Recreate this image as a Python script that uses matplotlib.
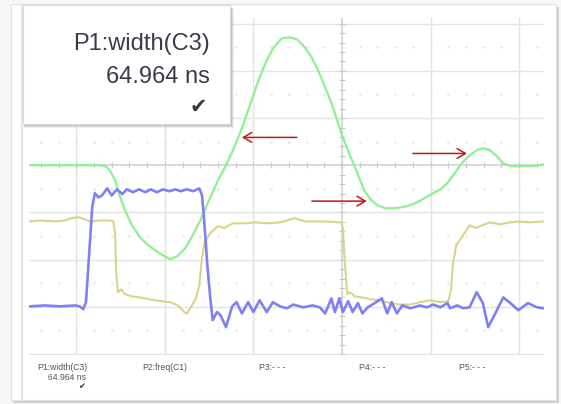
import matplotlib
matplotlib.use("Agg")
import matplotlib.pyplot as plt
from matplotlib.patches import Rectangle, FancyArrowPatch
import numpy as np

# ---- data (units: screen divisions; x = time, y = amplitude) ----
green_t = [-3.53, -2.73, -2.67, -2.62, -2.56, -2.51, -2.45, -2.37, -2.28, -2.19, -2.11, -2.02,
           -1.94, -1.86, -1.77, -1.69, -1.60, -1.49, -1.40, -1.32, -1.24, -1.13, -1.04, -0.95,
           -0.86, -0.77, -0.68, -0.59, -0.51, -0.43, -0.35, -0.27, -0.19, -0.11, 0.00, 0.09,
           0.17, 0.25, 0.32, 0.40, 0.49, 0.60, 0.73, 0.82, 0.91, 1.03, 1.11, 1.19, 1.28, 1.35,
           1.44, 1.52, 1.59, 1.67, 1.75, 1.82, 1.90, 2.01, 2.16, 2.28]
green_v = [0.00, 0.00, -0.02, -0.11, -0.32, -0.64, -0.95, -1.27, -1.53, -1.69, -1.80, -1.91,
           -1.99, -1.93, -1.76, -1.50, -1.17, -0.70, -0.32, -0.04, 0.28, 0.78, 1.27, 1.76,
           2.18, 2.50, 2.69, 2.71, 2.67, 2.52, 2.31, 2.01, 1.65, 1.27, 0.64, 0.21,
           -0.15, -0.53, -0.72, -0.85, -0.91, -0.91, -0.87, -0.81, -0.72, -0.59, -0.51, -0.38, -0.15, 0.04,
           0.21, 0.32, 0.36, 0.32, 0.19, 0.04, -0.02, -0.02, -0.02, 0.02]

yellow_t = [-3.53, -3.41, -3.24, -3.13, -3.05, -2.98, -2.91, -2.84, -2.73, -2.62, -2.58, -2.56,
            -2.55, -2.53, -2.49, -2.45, -2.37, -2.28, -2.17, -2.05, -1.94, -1.85, -1.78, -1.75,
            -1.70, -1.65, -1.61, -1.58, -1.55, -1.49, -1.40, -1.33, -1.23, -1.09, -0.98, -0.85,
            -0.70, -0.53, -0.42, -0.33, -0.19, -0.01, 0.01, 0.03, 0.06, 0.09, 0.15, 0.23, 0.32,
            0.43, 0.54, 0.65, 0.77, 0.88, 0.99, 1.11, 1.20, 1.23, 1.25, 1.29, 1.35, 1.44, 1.51,
            1.61, 1.67, 1.78, 1.90, 1.99, 2.12, 2.28]
yellow_v = [-1.19, -1.17, -1.19, -1.17, -1.12, -1.10, -1.14, -1.19, -1.17, -1.17, -1.19, -1.48,
            -2.22, -2.69, -2.63, -2.73, -2.78, -2.80, -2.84, -2.88, -2.90, -2.97, -3.11, -3.14,
            -2.99, -2.82, -2.54, -1.95, -1.63, -1.44, -1.29, -1.33, -1.23, -1.23, -1.21, -1.23,
            -1.21, -1.12, -1.19, -1.19, -1.19, -1.21, -1.33, -2.01, -2.73, -2.69, -2.78, -2.80, -2.84,
            -2.86, -2.92, -2.95, -2.95, -2.90, -2.86, -2.90, -2.88, -2.65, -2.12, -1.69, -1.53, -1.27, -1.33,
            -1.25, -1.21, -1.25, -1.21, -1.19, -1.21, -1.19]

blue_t = [-3.53, -3.35, -3.18, -3.01, -2.96, -2.92, -2.89, -2.87, -2.84, -2.82, -2.79, -2.75,
          -2.71, -2.65, -2.60, -2.54, -2.48, -2.43, -2.36, -2.29, -2.22, -2.16, -2.09, -2.02,
          -1.95, -1.88, -1.82, -1.75, -1.68, -1.61, -1.58, -1.56, -1.52, -1.49, -1.46, -1.41,
          -1.37, -1.31, -1.24, -1.19, -1.13, -1.06, -1.00, -0.93, -0.85, -0.78, -0.70, -0.62,
          -0.55, -0.44, -0.33, -0.25, -0.19, -0.12, -0.08, -0.03, 0.01, 0.07, 0.12, 0.18, 0.23,
          0.29, 0.37, 0.45, 0.51, 0.56, 0.62, 0.68, 0.77, 0.88, 0.96, 1.03, 1.11, 1.19, 1.22,
          1.30, 1.37, 1.44, 1.52, 1.59, 1.65, 1.73, 1.82, 1.90, 1.99, 2.10, 2.20, 2.28]
blue_v = [-2.99, -2.97, -2.99, -2.97, -2.99, -3.05, -2.90, -2.33, -1.48, -0.89, -0.59, -0.68,
          -0.64, -0.49, -0.64, -0.51, -0.61, -0.51, -0.57, -0.51, -0.57, -0.51, -0.57, -0.51,
          -0.55, -0.51, -0.55, -0.51, -0.55, -0.49, -0.64, -1.06, -2.12, -2.75, -3.28, -3.11,
          -3.18, -3.43, -2.99, -2.90, -3.14, -2.90, -3.11, -2.86, -3.11, -2.90, -2.99, -3.03,
          -2.95, -3.01, -2.97, -3.01, -3.14, -2.82, -3.11, -2.82, -3.11, -2.88, -3.11, -2.92, -3.14,
          -3.01, -2.92, -2.82, -3.14, -2.90, -3.14, -2.97, -3.03, -2.97, -3.01, -2.95, -3.01, -2.92, -3.03,
          -2.97, -3.03, -3.01, -2.69, -2.92, -3.43, -3.14, -2.80, -2.92, -3.07, -2.92, -3.01, -3.03]

# annotation arrows: (tail_t, tail_v, head_t, head_v)
arrows = [(-0.51, 0.59, -1.13, 0.59),
          (-0.34, -0.76, 0.28, -0.76),
          (0.80, 0.25, 1.41, 0.25)]

meas_box = ["P1:width(C3)", "64.964 ns"]
param_labels = ["P1:width(C3)", "P2:freq(C1)", "P3:- - -", "P4:- - -", "P5:- - -"]
param_x = [37, 142, 259, 359, 459]
p1_value = "64.964 ns"

W, H = 561, 404
fig = plt.figure(figsize=(W / 100, H / 100), dpi=100)
fig.patch.set_facecolor("#f7f7f7")

# background decoration layer (pixel coordinates)
bg = fig.add_axes([0, 0, 1, 1], zorder=0)
bg.set_xlim(0, W)
bg.set_ylim(H, 0)
bg.axis("off")
bg.add_patch(Rectangle((13, 7), 546, 396, facecolor="#d0d0d0", edgecolor="none"))
bg.add_patch(Rectangle((11, 4), 545, 396, facecolor="white", edgecolor="#e2e2e2", lw=0.8))
bg.plot([22, 22], [5, 400], color="#e4e4e4", lw=1.5)

# main scope axes
L, R, T, B = 29, 544, 18, 355
ax = fig.add_axes([L / W, (H - B) / H, (R - L) / W, (B - T) / H], zorder=1)
ax.set_facecolor("none")
ax.set_xlim(-3.533, 2.28)
ax.set_ylim(-4.02, 3.12)
for s in ax.spines.values():
    s.set_visible(False)
ax.set_xticks([])
ax.set_yticks([])

grid_c = "#e3e3e3"
for xv in [-3, -2, -1, 1, 2]:
    ax.axvline(xv, color=grid_c, lw=1.0, zorder=1)
for yv in [3, 2, 1, -1, -2, -3, -4]:
    ax.axhline(yv, color=grid_c, lw=1.0, zorder=1)
ax.axvline(0, color="#d2d2d2", lw=1.2, zorder=1)
ax.axhline(0, color="#d2d2d2", lw=1.2, zorder=1)

# minor ticks on center axes
tx = np.arange(-3.4, 2.3, 0.2)
ty = np.arange(-4.0, 3.1, 0.2)
ax.plot(tx, np.zeros_like(tx), linestyle="none", marker="|", ms=4, mew=0.8, color="#c8c8c8", zorder=1)
ax.plot(np.zeros_like(ty), ty, linestyle="none", marker="_", ms=4, mew=0.8, color="#c8c8c8", zorder=1)
# faint dotted minor grid marks
for yv in [2.5, 1.5, 0.5, -0.5, -1.5, -2.5, -3.5]:
    ax.plot(tx, np.full_like(tx, yv), linestyle="none", marker="s", ms=0.8, color="#e6e6e6", zorder=1)

ax.plot(green_t, green_v, color="#8ef08e", lw=1.6, zorder=3,
        solid_joinstyle="round", solid_capstyle="round")
ax.plot(yellow_t, yellow_v, color="#d9d48a", lw=1.5, zorder=3,
        solid_joinstyle="round", solid_capstyle="round")
ax.plot(blue_t, blue_v, color="#8080f4", lw=1.9, zorder=4,
        solid_joinstyle="round", solid_capstyle="round")

for (t0, v0, t1, v1) in arrows:
    ax.add_patch(FancyArrowPatch((t0, v0), (t1, v1), arrowstyle="->,head_length=6,head_width=3.5",
                                 mutation_scale=1, color="#c01818", lw=1.1, zorder=5,
                                 shrinkA=0, shrinkB=0))

# foreground decoration layer
fg = fig.add_axes([0, 0, 1, 1], zorder=2)
fg.set_xlim(0, W)
fg.set_ylim(H, 0)
fg.axis("off")
fg.patch.set_alpha(0)
# measurement popup with shadow
for i, a in enumerate([0.10, 0.16, 0.24]):
    d = 4 - i
    fg.add_patch(Rectangle((23 + 1, 5 + d), 207 + d - 1, 119, facecolor="#707070",
                           edgecolor="none", alpha=a))
fg.add_patch(Rectangle((23, 5), 207, 119, facecolor="white", edgecolor="#dcdcdc", lw=0.8))
fg.text(210, 44, meas_box[0], ha="right", va="center", fontsize=17,
        family="Liberation Sans", color="#3c3c48")
fg.text(210, 77, meas_box[1], ha="right", va="center", fontsize=17,
        family="Liberation Sans", color="#3c3c48")
fg.text(198, 107, "\u2714", ha="center", va="center", fontsize=15,
        family="DejaVu Sans", color="#3a3a3a")

# parameter table
for lab, xp in zip(param_labels, param_x):
    fg.text(xp, 367, lab, ha="left", va="center", fontsize=6.2,
            family="Liberation Sans", color="#555555")
fg.text(86, 377, p1_value, ha="right", va="center", fontsize=6.2,
        family="Liberation Sans", color="#555555")
fg.text(82, 387, "\u2714", ha="center", va="center", fontsize=6,
        family="DejaVu Sans", color="#333333")

fig.savefig("out.png", dpi=100)
